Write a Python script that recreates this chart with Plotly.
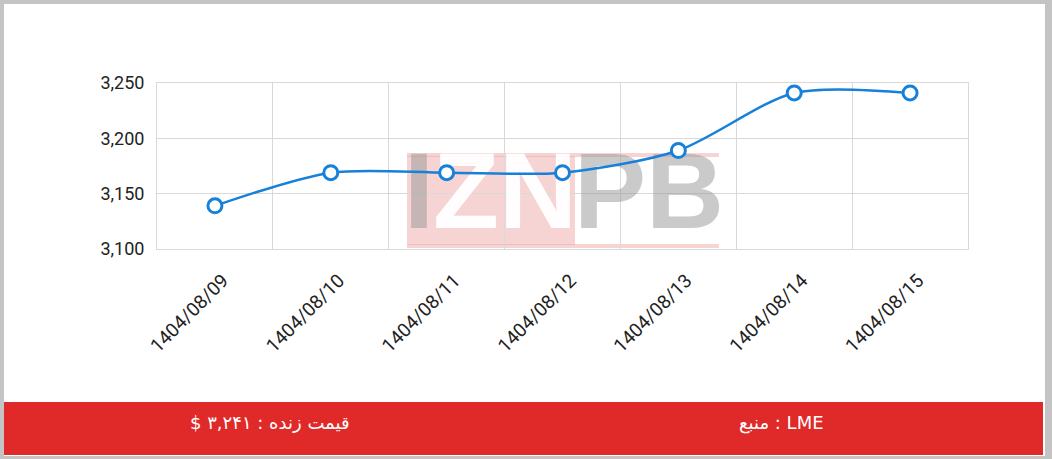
import plotly.graph_objects as go

dates = ["1404/08/09", "1404/08/10", "1404/08/11", "1404/08/12", "1404/08/13", "1404/08/14", "1404/08/15"]
prices = [3139, 3169, 3169, 3169, 3189, 3241, 3241]
y_ticks = [3100, 3150, 3200, 3250]
live_label = "قیمت زنده : ۳,۲۴۱ $"
source_label = "منبع : LME"
watermark_parts = ["I", "ZN", "PB"]

W, H = 1052, 459
L, R, T, B = 157, 968, 83, 249  # plot area in pixels
Y_MIN, Y_MAX = 3100, 3250
n = len(dates)
idx = list(range(n))


def px(x):
    return (x - L) / (R - L)


def py(y):
    return (B - y) / (B - T)


def dx(x):  # pixel -> x data units
    return -0.5 + (x - L) / (R - L) * n


def dy(y):  # pixel -> y data units
    return Y_MAX - (y - T) / (B - T) * (Y_MAX - Y_MIN)


BLUE = "#1780d8"
GRID = "#d9d9d9"
WM_GRAY = "rgba(150,150,150,0.5)"
WM_WHITE = "rgba(255,255,255,0.95)"
PINK = "rgba(236,160,160,0.45)"

fig = go.Figure()

# watermark pieces (drawn first, beneath the line)
wm_specs = [
    (watermark_parts[0], 404, "middle right", WM_GRAY),
    (watermark_parts[1], 433, "middle right", WM_WHITE),
    (watermark_parts[2], 724, "middle left", WM_GRAY),
]
for txt, xp, pos, col in wm_specs:
    fig.add_trace(go.Scatter(
        x=[dx(xp)], y=[dy(201)], mode="text",
        text=["<b>%s</b>" % txt],
        textfont=dict(family="Liberation Sans", size=108, color=col),
        textposition=pos, hoverinfo="skip", showlegend=False,
    ))

fig.add_trace(go.Scatter(
    x=idx, y=prices, mode="lines+markers",
    line=dict(color=BLUE, width=2.5, shape="spline", smoothing=0.8),
    marker=dict(size=14, color="white", line=dict(color=BLUE, width=3)),
    showlegend=False,
))

shapes = [
    dict(type="rect", xref="paper", yref="paper", x0=px(4), x1=px(1045), y0=py(456), y1=py(4),
         fillcolor="white", line=dict(width=0), layer="below"),
    dict(type="rect", xref="paper", yref="paper", x0=px(4), x1=px(1043), y0=py(455), y1=py(402),
         fillcolor="#e02929", line=dict(width=0), layer="below"),
    dict(type="rect", xref="paper", yref="paper", x0=px(407), x1=px(575), y0=py(245), y1=py(156),
         fillcolor=PINK, line=dict(width=0), layer="below"),
    dict(type="rect", xref="paper", yref="paper", x0=px(407), x1=px(719), y0=py(157), y1=py(153),
         fillcolor=PINK, line=dict(width=0), layer="below"),
    dict(type="rect", xref="paper", yref="paper", x0=px(407), x1=px(719), y0=py(248), y1=py(244),
         fillcolor=PINK, line=dict(width=0), layer="below"),
]

annotations = [
    dict(xref="paper", yref="paper", x=px(270), y=py(423), text="\u202b" + live_label + "\u202c",
         showarrow=False, font=dict(family="DejaVu Sans", size=18, color="white"),
         xanchor="center", yanchor="middle"),
    dict(xref="paper", yref="paper", x=px(781), y=py(423), text=source_label, showarrow=False,
         font=dict(family="DejaVu Sans", size=18, color="white"), xanchor="center", yanchor="middle"),
]

fig.update_layout(
    width=W, height=H,
    margin=dict(l=L, r=W - R, t=T, b=H - B),
    paper_bgcolor="#c4c4c4",
    plot_bgcolor="rgba(0,0,0,0)",
    font=dict(family="Roboto", color="#222"),
    shapes=shapes,
    annotations=annotations,
    xaxis=dict(
        range=[-0.5, n - 0.5], tickmode="array", tickvals=idx, ticktext=dates,
        showgrid=False, showline=True, linecolor=GRID, mirror=True, ticks="", tickangle=-45,
        minor=dict(tickmode="linear", tick0=-0.5, dtick=1, showgrid=True, gridcolor=GRID, ticks=""),
        ticklabelstandoff=12, ticklabelshift=8,
        tickfont=dict(family="Roboto", size=19, color="#222"), zeroline=False,
    ),
    yaxis=dict(
        range=[Y_MIN, Y_MAX], tickvals=y_ticks, tickformat=",", showgrid=True, gridcolor=GRID,
        showline=True, linecolor=GRID, mirror=True, ticks="", ticklabelstandoff=8,
        tickfont=dict(family="Roboto", size=18, color="#222"), zeroline=False,
    ),
)

fig.write_html("out.html", config={"displayModeBar": False},
               post_script="document.body.style.margin='0';")
